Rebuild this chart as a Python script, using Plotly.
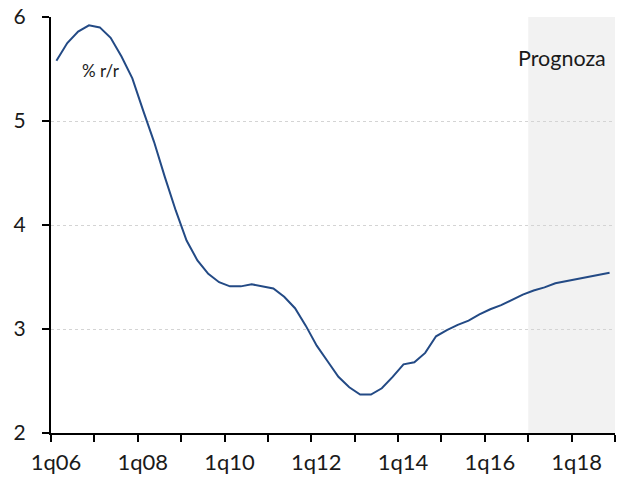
import plotly.graph_objects as go

# Quarterly data 1q06 .. 4q18 (index 0..51)
values = [
    5.58, 5.75, 5.86, 5.92, 5.90, 5.80, 5.62, 5.41,   # 2006-2007
    5.10, 4.80, 4.46, 4.14, 3.85, 3.66, 3.53, 3.45,   # 2008-2009
    3.41, 3.41, 3.43, 3.41, 3.39, 3.31, 3.20, 3.03,   # 2010-2011
    2.84, 2.69, 2.54, 2.44, 2.37, 2.37, 2.43, 2.54,   # 2012-2013
    2.66, 2.68, 2.77, 2.93, 2.99, 3.04, 3.08, 3.14,   # 2014-2015
    3.19, 3.23, 3.28, 3.33, 3.37, 3.40, 3.44, 3.46,   # 2016-2017
    3.48, 3.50, 3.52, 3.54,                           # 2018
]
quarter_index = list(range(len(values)))
year_labels = ["1q06", "", "1q08", "", "1q10", "", "1q12", "",
               "1q14", "", "1q16", "", "1q18", ""]
forecast_start = 44  # 1q17
y_ticks = [2, 3, 4, 5, 6]

line_color = "#234a85"
font_family = "Lato, Open Sans, sans-serif"
text_color = "#1a1a1a"

n = len(values)
# tick marks sit between categories (start of each year); labels shifted to category centre
year_tick_vals = [i - 0.5 for i in range(0, n, 4)] + [n - 0.5]
year_tick_text = year_labels

fig = go.Figure()
fig.add_trace(go.Scatter(
    x=quarter_index, y=values, mode="lines",
    line=dict(color=line_color, width=2),
    hoverinfo="skip", showlegend=False,
))

fig.add_shape(
    type="rect", xref="x", yref="paper",
    x0=forecast_start - 0.5, x1=n - 0.5, y0=0, y1=1,
    fillcolor="#f2f2f2", line=dict(width=0), layer="between",
)

fig.add_annotation(
    x=1, y=1, xref="paper", yref="paper",
    xanchor="right", yanchor="middle", yshift=-41, xshift=-7,
    text="Prognoza", showarrow=False,
    font=dict(family=font_family, size=21.5, color=text_color),
)
fig.add_annotation(
    x=0, y=1, xref="paper", yref="paper",
    xanchor="left", yanchor="middle", yshift=-53, xshift=29,
    text="% r/r", showarrow=False,
    font=dict(family=font_family, size=17, color=text_color),
)

fig.update_layout(
    width=619, height=480,
    margin=dict(l=51, r=4, t=17, b=47),
    paper_bgcolor="white", plot_bgcolor="white",
    font=dict(family=font_family, color=text_color),
    showlegend=False,
)
fig.update_xaxes(
    range=[-0.5, n - 0.5],
    tickmode="array", tickvals=year_tick_vals, ticktext=year_tick_text,
    ticks="outside", ticklen=7, tickwidth=2, tickcolor="black",
    ticklabelshift=5, ticklabelstandoff=2,
    ticklabeloverflow="allow",
    showgrid=False, zeroline=False,
    showline=True, linecolor="black", linewidth=2,
    tickfont=dict(size=22, family=font_family, color=text_color),
    automargin=False,
)
fig.update_yaxes(
    range=[2, 6], tickmode="array", tickvals=y_ticks,
    ticks="outside", ticklen=7, tickwidth=2, tickcolor="black",
    showline=True, linecolor="black", linewidth=2,
    showgrid=True, gridcolor="#d4d4d4", griddash="dot", gridwidth=1,
    zeroline=False,
    tickfont=dict(size=21, family=font_family, color=text_color),
    ticklabelstandoff=12, ticklabeloverflow="allow",
    automargin=False,
)

fig.write_html("out.html", config={"displayModeBar": False},
               post_script="document.body.style.margin='0';")
